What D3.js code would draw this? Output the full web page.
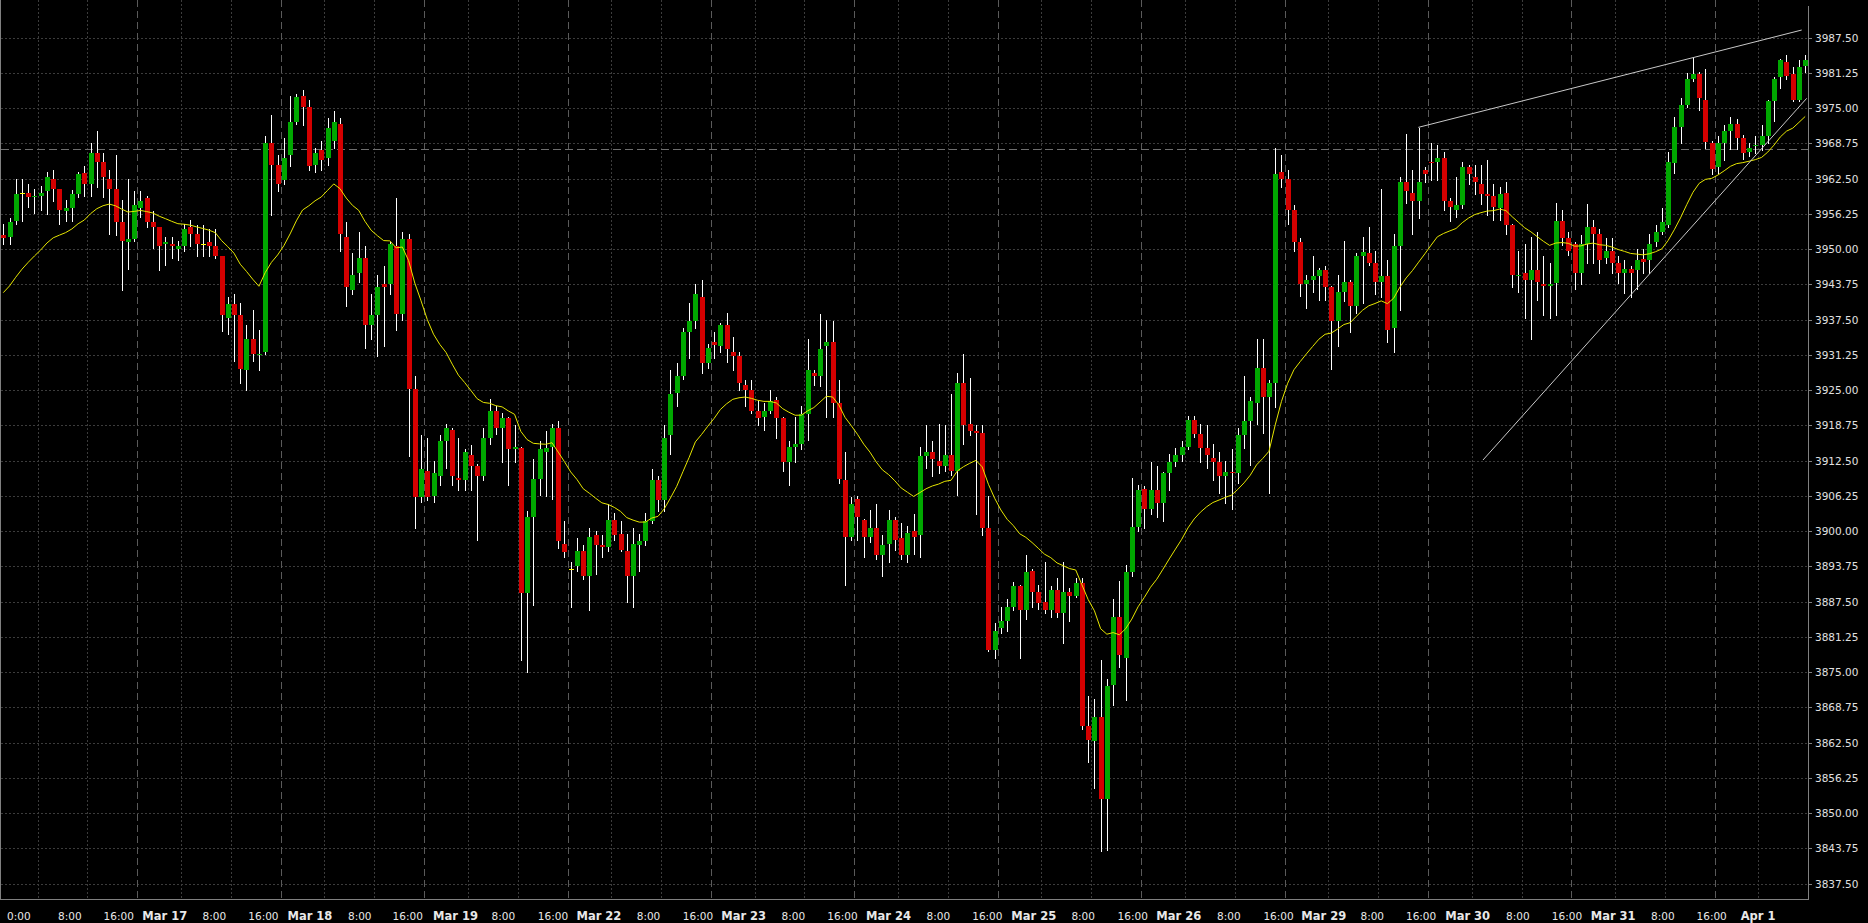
<!DOCTYPE html>
<html><head><meta charset="utf-8">
<script src="https://cdn.jsdelivr.net/npm/d3@7"></script>
<style>html,body{margin:0;padding:0;background:#000;overflow:hidden}</style>
</head><body><svg id="c" width="1868" height="923"></svg>
<script>
// ---------- DATA (H1 candles, ES futures) ----------
const opens = [3952.5,3952.25,3955,3960,3960,3959.25,3959.5,3960.25,3962.5,3960.75,3956.75,3957.25,3959.75,3963.5,3961.5,3967,3965.5,3962.5,3960.75,3954.75,3951.25,3951.75,3957.25,3959,3954.75,3954,3951,3951,3950,3950.5,3954,3952.75,3951,3951.25,3950.5,3948.75,3937.75,3940.25,3938.25,3928.5,3934,3931.25,3931.75,3968.75,3965,3962.25,3966.75,3972.5,3977.25,3975.25,3965,3967.5,3966.25,3969.25,3972.25,3952.25,3942.75,3945.75,3948.5,3936.5,3938.25,3943.75,3943.75,3950.5,3938.5,3951.75,3925.25,3906,3910.75,3906.25,3909.75,3916,3918,3909.5,3909,3913.5,3911.5,3909.75,3916.5,3921.25,3918.25,3920,3914.5,3914.75,3889,3902.5,3909.25,3914,3915,3918.25,3897.75,3893.25,3893.75,3896.5,3892,3899.25,3897.5,3897.25,3902,3899.5,3896.5,3892,3897.5,3898.25,3901.75,3909,3905.5,3917,3924.5,3927.5,3935.25,3937.25,3941.5,3929.75,3933.5,3932.75,3936.5,3931.75,3931,3926,3925,3921.25,3920.25,3921.25,3923.25,3920,3912.25,3915,3915.5,3920.75,3928,3927.5,3932.75,3933.5,3922.75,3909,3899,3905.75,3902,3899,3900.5,3895.75,3897.75,3902,3898.75,3895.75,3900,3899.25,3913.25,3914,3912.5,3911.5,3913.5,3910.75,3926.25,3919,3917.75,3917.5,3900.5,3879,3882.75,3884,3886.5,3890.25,3886,3893,3889.25,3887.5,3886,3889.5,3885.5,3889.25,3888.5,3890.75,3865.5,3862.75,3867,3852.5,3872.75,3884.75,3877.5,3892.75,3900.75,3907.5,3904,3907.25,3905,3910.25,3912.25,3913.5,3915,3919.75,3917.25,3914.75,3913,3912.25,3909.75,3910.5,3910.25,3917,3919.5,3922.75,3929,3923.75,3926.25,3963.75,3962.5,3957,3951.25,3943.75,3944.5,3945.25,3946.25,3943.25,3937.25,3942.5,3944.25,3940,3948.75,3949.25,3947.5,3944.25,3945.25,3936,3950.5,3962,3960,3958.5,3964,3965.5,3965.5,3966.25,3958.5,3957,3957.75,3964.5,3962.75,3961.5,3959.75,3959.5,3957.25,3960,3954.25,3945.25,3945.75,3944.5,3946.25,3943.75,3943.5,3944,3955,3952,3951,3945.75,3951,3954,3952.75,3948.5,3949.75,3947.5,3945.75,3946.5,3946.25,3948.25,3948,3951.25,3953,3954.25,3965.25,3971.75,3975.5,3980.25,3981,3976.5,3968.75,3964.5,3968.75,3971,3972.25,3969.75,3967.25,3968.25,3968.5,3970,3976.25,3980.5,3983.25,3981,3976.5,3982.5];
const highs = [3954.5,3955.5,3962.5,3962.5,3961.5,3960.75,3961.25,3963.75,3964,3960.75,3958.75,3960.5,3963.75,3964.75,3968.75,3971,3967,3964,3966.75,3958.75,3962.5,3960.25,3960.25,3959.5,3956.75,3954,3952.25,3952.25,3951.5,3954.5,3955.25,3954.25,3954.25,3953.5,3953.5,3948.75,3941.5,3942,3940.5,3936.5,3939.25,3935.75,3970,3973.75,3966.75,3969.75,3977.25,3977.5,3978.25,3976.5,3968,3969.25,3973.25,3974.5,3973.25,3954.75,3949.25,3953,3950.5,3942,3945.5,3947,3951.25,3959,3953,3952.75,3927.5,3917,3916.5,3912.5,3917,3919,3918.25,3916.5,3914.5,3915.25,3912,3918.25,3923.5,3922.25,3921,3920.25,3918.75,3915,3903.5,3912.75,3916,3917.75,3919,3919.5,3901.75,3894.5,3898.75,3897.5,3900.5,3900,3899.25,3904.75,3903.25,3901.75,3899.5,3900.5,3899.5,3903.25,3911,3909.75,3918.75,3928.5,3929.75,3936,3940.5,3943.75,3944.5,3933.25,3935.25,3937,3938.75,3934.5,3931.75,3926.75,3926.75,3923.25,3922.75,3925,3923.75,3920.25,3916,3920.25,3922.25,3934,3928.5,3938.5,3937.5,3937.25,3926.75,3914,3906,3906.25,3902.25,3903.75,3904.75,3899.25,3903.75,3902.5,3901.5,3901,3903,3915,3918.75,3916,3919,3918.75,3924.25,3928,3931.5,3927.25,3918.75,3918.75,3906.25,3883.75,3886.5,3888,3891,3890.5,3895.75,3893.25,3890.5,3894.5,3890.25,3891.75,3894.5,3890,3891.75,3891.75,3870.75,3870.25,3877.25,3873.75,3888,3891.25,3894,3909.5,3908.25,3908,3912.25,3911.5,3910.5,3913.75,3914.75,3916,3920.5,3920.5,3919,3918.75,3915.5,3914,3912.5,3914.5,3918.25,3927.5,3923.75,3934,3934,3926.75,3968,3966.75,3964,3957.75,3952,3945.5,3948.75,3946.75,3947,3943.5,3945.5,3951.5,3944.5,3949.25,3952.25,3954,3949.75,3960.75,3948,3952.75,3962.75,3970.5,3964,3971.5,3964.5,3968.75,3968.5,3967.25,3959,3962.75,3965.5,3965,3965,3965,3965.75,3961.5,3961,3962,3954.5,3949.75,3951,3952.25,3953,3948.75,3947.5,3958.25,3957,3953,3951.25,3952.5,3958,3955.25,3953.5,3952,3952,3948.75,3948,3947,3950,3950,3952.75,3954.25,3957.25,3967.25,3973.5,3976.75,3981.25,3984,3981.5,3982,3969.25,3970,3972,3973.5,3973,3970.25,3968.75,3970,3972,3976.5,3980.5,3983.75,3984.5,3982.25,3983.5,3984.5];
const lows = [3951,3951,3954.5,3955,3957.5,3956.5,3957,3956.25,3958.5,3954.5,3955,3955,3959.25,3959.5,3959.5,3961,3959.25,3952.75,3952.5,3942.75,3946.5,3951.5,3955.75,3954,3950.25,3946.25,3947.25,3948.5,3948,3949.75,3950.5,3948.75,3948.75,3948.75,3948.5,3935.5,3935,3930.25,3926.25,3925,3930.25,3928.5,3931.5,3956,3960.25,3961.5,3964.75,3972.25,3972,3964,3963.75,3964,3965,3968,3949.75,3940,3942,3944.25,3932.5,3934,3931,3932.75,3942,3935.75,3937.5,3913.25,3900.5,3905.25,3905.5,3905.25,3908.25,3911.25,3908.25,3907.25,3907.25,3907.25,3898.5,3909,3915.5,3917.25,3912.25,3908.25,3912.25,3877.25,3875,3887,3906.5,3906.25,3905.75,3897,3895.5,3886.5,3893,3891.5,3886,3892.5,3895.5,3896.5,3898.5,3896.5,3887.5,3886.5,3893,3897.5,3901.5,3903.5,3903.5,3913.75,3922.25,3927,3930.75,3936,3928,3929,3930.75,3931.75,3930,3928.5,3925,3922.25,3921,3918.75,3918,3921,3916.5,3910.75,3908.25,3912.25,3914.5,3916.25,3926,3925.75,3920.25,3920.25,3908.5,3890.5,3898.5,3898.5,3895.5,3898,3895,3892,3894.5,3896.75,3895,3894.5,3896,3895.5,3911.25,3909.75,3910.25,3910.75,3910,3906.5,3915.5,3917,3903,3899.25,3878.75,3877.5,3882,3882.25,3886,3877.5,3884.5,3886.5,3886.25,3885.5,3884.75,3884.75,3880.25,3884,3888.25,3865,3859,3854.5,3843.25,3843.5,3869.25,3876,3870,3892,3900,3900.5,3903,3902.5,3901.75,3907.25,3911.5,3912.5,3914.5,3916.75,3912.25,3911.25,3909,3906.75,3905,3904,3908.5,3914.75,3911.75,3919,3917.5,3906.75,3922,3961,3954.5,3949.75,3941.75,3939.5,3942.5,3941,3941,3928.75,3932.75,3940.75,3935.25,3938.75,3940.5,3947.25,3942,3941.5,3933.5,3931.75,3939.25,3958.25,3952.75,3955.5,3962,3962.25,3962.25,3957,3955,3955.75,3957.25,3961.5,3959.75,3958,3956,3955.25,3955.25,3952.75,3943.25,3942.5,3937.75,3934,3941,3938.25,3937.75,3938.25,3950.75,3949,3943,3943.75,3947.5,3947.5,3945.75,3947.5,3945.75,3944,3942.25,3941.5,3943,3945.75,3945.75,3950.5,3952.75,3954,3963.5,3968.75,3975.25,3979.75,3974.75,3968,3963.25,3963.5,3965.75,3967.75,3967.75,3966,3966.5,3967,3967.5,3968.75,3972.75,3978.5,3980.25,3976.25,3976.25,3981.5];
const closes = [3952,3954.75,3959.75,3960,3959.25,3959.5,3960,3962.75,3960.75,3957,3957.25,3959.75,3963.25,3961.5,3967,3965.5,3962.75,3960.75,3954.75,3951.5,3951.75,3957.75,3958.5,3954.75,3954,3950.5,3951.25,3950.5,3950.5,3953.5,3952.75,3951,3951,3950.5,3948.75,3938.25,3940.25,3938.25,3928.75,3934,3931.5,3931.5,3968.75,3965,3961.5,3966.25,3972.5,3977,3975.25,3964.75,3967,3965.75,3971.5,3972.5,3952.75,3943.25,3945.5,3948.5,3936.5,3938.25,3943.25,3943.25,3951,3938.5,3951.75,3925.25,3906,3911,3906,3910.25,3916,3918.25,3909.75,3909,3914,3911.5,3909.75,3916.5,3921.25,3918.25,3920,3914.5,3915,3889,3902.5,3909.25,3914.5,3914.75,3918.25,3898.25,3896.25,3893.25,3896.5,3892,3899,3897.5,3897.25,3902,3899.25,3896.75,3892,3897.75,3898.25,3901.75,3909,3905.5,3916.5,3924.25,3927.5,3935.25,3937.25,3942,3929.75,3932.5,3933,3936.5,3932.25,3931,3926.25,3925,3921.25,3920,3921.25,3923,3920,3912.25,3915,3915.5,3920.75,3928.5,3927.5,3932.25,3933.5,3922.75,3909.25,3899,3904.75,3902.5,3899,3900.5,3895.75,3897.5,3902,3898.5,3895.75,3899.75,3899,3913.25,3914,3912.75,3911.5,3913.5,3910.75,3926.25,3918.75,3917.75,3917.5,3900.5,3879,3882.25,3884,3886.5,3890.25,3886,3892.75,3889.25,3887.25,3886,3889.5,3885.5,3889.25,3888.5,3890.75,3865.5,3863,3867,3852.5,3872.5,3884.75,3878,3892.75,3900.75,3907.25,3904,3907.25,3905,3910.25,3912.25,3913.5,3915,3919.75,3917.25,3914.75,3913.5,3912.25,3909.75,3910.5,3910.25,3917,3919.5,3923,3929,3923.75,3926.25,3963.25,3962.5,3957,3951.25,3943.75,3944.5,3945.25,3946.25,3943.25,3937.25,3942.5,3944.25,3940,3948.75,3949.5,3947.5,3944.25,3945.25,3935.75,3950.5,3962,3960.25,3958.5,3962,3963.25,3965.25,3966.25,3958.5,3957.5,3957.75,3964.5,3963.25,3962,3959.75,3959.5,3957.5,3959.75,3954.25,3945.5,3945.5,3944.5,3946.25,3944.25,3943.5,3943.75,3955,3952,3949.75,3945.75,3951,3954,3952.75,3948,3949.75,3947.5,3945.75,3946.5,3945.75,3948,3947.75,3951,3953,3954.75,3965.5,3971.75,3975.5,3980.25,3981,3976.75,3969,3964.25,3968.75,3971,3972.25,3969.75,3967,3968,3968.5,3970,3976.25,3980.25,3983.5,3980.75,3976.5,3982.25,3983.5];

// moving average (EMA 20 of close) – value at first visible bar
const maPeriod = 20;
const maStart = 3942.3;

// price axis ticks
const priceTicks = d3.range(0, 25).map(i => 3837.5 + i * 6.25);

// time axis: label text, bar position of label
const timeLabels = ["0:00","8:00","16:00","Mar 17","8:00","16:00","Mar 18","8:00","16:00","Mar 19","8:00","16:00","Mar 22","8:00","16:00","Mar 23","8:00","16:00","Mar 24","8:00","16:00","Mar 25","8:00","16:00","Mar 26","8:00","16:00","Mar 29","8:00","16:00","Mar 30","8:00","16:00","Mar 31","8:00","16:00","Apr 1"];
const timeLabelBars = [1.61,9.79,17.09,23.29,32.95,40.29,46.58,56.28,63.44,69.92,79.3,86.73,92.93,102.59,109.99,116.14,125.82,133.16,139.38,149.07,156.4,162.68,172.31,179.72,185.92,195.67,203.1,209.19,218.67,225.97,232.26,242.01,249.36,255.6,265.27,272.57,279.66];
// vertical grid: first bar of each 8-hour block; day separators
const gridBars = [7,15,30,38,53,61,76,84,99,107,122,130,145,153,168,176,191,199,214,222,237,245,260,268,283];
const dayBars = [23,46,69,92,115,138,161,184,207,230,253,276];

// drawn objects: trend lines [bar, price] pairs and a horizontal level
const trendLines = [
  [[227.94, 3971.6], [289.44, 3988.86]],
  [[238.32, 3912.62], [290.24, 3976.75]]
];
const levelLine = 3967.75;

// ---------- DRAW ----------
const W = 1868, H = 923;
const plotR = 1808, plotB = 899;
const svg = d3.select("#c");
svg.append("rect").attr("width", W).attr("height", H).attr("fill", "#000");

const N = closes.length;
const x = d3.scaleLinear().domain([1, N]).range([3.3, 1805.2]);
const y = d3.scaleLinear().domain([3837.5, 3987.5]).range([883.7, 37.7]);

const g = svg.append("g");
const defs = svg.append("defs");
defs.append("clipPath").attr("id", "clip").append("rect").attr("x", 0).attr("y", 0).attr("width", plotR).attr("height", plotB);

// horizontal grid
g.append("g").selectAll("line").data(priceTicks).join("line")
  .attr("x1", 1).attr("x2", plotR)
  .attr("y1", d => Math.round(y(d)) + 0.5).attr("y2", d => Math.round(y(d)) + 0.5)
  .attr("stroke", "#3c3c3c").attr("stroke-width", 1).attr("stroke-dasharray", "2,2");

// vertical grid
g.append("g").selectAll("line").data(gridBars).join("line")
  .attr("x1", d => Math.round(x(d - 0.5)) + 0.5).attr("x2", d => Math.round(x(d - 0.5)) + 0.5)
  .attr("y1", 0).attr("y2", plotB)
  .attr("stroke", "#3c3c3c").attr("stroke-width", 1).attr("stroke-dasharray", "2,2");
g.append("g").selectAll("line").data(dayBars).join("line")
  .attr("x1", d => Math.round(x(d - 0.5)) + 0.5).attr("x2", d => Math.round(x(d - 0.5)) + 0.5)
  .attr("y1", 0).attr("y2", plotB)
  .attr("stroke", "#5a5a5a").attr("stroke-width", 1).attr("stroke-dasharray", "7,4");

// horizontal level line
g.append("line").attr("x1", 1).attr("x2", plotR)
  .attr("y1", Math.round(y(levelLine)) + 0.5).attr("y2", Math.round(y(levelLine)) + 0.5)
  .attr("stroke", "#6e6e6e").attr("stroke-width", 1).attr("stroke-dasharray", "8,4");

// candles
const cg = g.append("g").attr("clip-path", "url(#clip)");
const idx = d3.range(N);
const cx = i => Math.round(x(i + 1));
cg.append("g").selectAll("line").data(idx).join("line")
  .attr("x1", i => cx(i) + 0.5).attr("x2", i => cx(i) + 0.5)
  .attr("y1", i => Math.round(y(highs[i]))).attr("y2", i => Math.round(y(lows[i])) + 1)
  .attr("stroke", "#ffffff").attr("stroke-width", 1);
cg.append("g").selectAll("rect").data(idx.filter(i => opens[i] !== closes[i])).join("rect")
  .attr("x", i => cx(i) - 2).attr("width", 5)
  .attr("y", i => Math.round(y(Math.max(opens[i], closes[i]))))
  .attr("height", i => Math.max(1, Math.round(y(Math.min(opens[i], closes[i]))) - Math.round(y(Math.max(opens[i], closes[i])))))
  .attr("fill", i => closes[i] > opens[i] ? "#00a800" : "#d40000");
cg.append("g").selectAll("rect").data(idx.filter(i => opens[i] === closes[i])).join("rect")
  .attr("x", i => cx(i) - 2).attr("width", 5)
  .attr("y", i => Math.round(y(closes[i]))).attr("height", 1)
  .attr("fill", "#ffff00");

// EMA line
const alpha = 2 / (maPeriod + 1);
const ma = [];
closes.forEach((c, i) => { ma.push(i === 0 ? maStart : ma[i - 1] + alpha * (c - ma[i - 1])); });
cg.append("path").datum(ma)
  .attr("d", d3.line().x((d, i) => x(i + 1)).y(d => y(d)))
  .attr("fill", "none").attr("stroke", "#e6e600").attr("stroke-width", 1);

// trend lines
cg.append("g").selectAll("line").data(trendLines).join("line")
  .attr("x1", d => x(d[0][0])).attr("y1", d => y(d[0][1]))
  .attr("x2", d => x(d[1][0])).attr("y2", d => y(d[1][1]))
  .attr("stroke", "#c8c8c8").attr("stroke-width", 1);

// frame
svg.append("line").attr("x1", 0.5).attr("x2", 0.5).attr("y1", 0).attr("y2", plotB + 0.5).attr("stroke", "#808080");
svg.append("line").attr("x1", plotR + 0.5).attr("x2", plotR + 0.5).attr("y1", 6).attr("y2", plotB + 0.5).attr("stroke", "#808080");
svg.append("line").attr("x1", 0).attr("x2", plotR + 1).attr("y1", plotB + 0.5).attr("y2", plotB + 0.5).attr("stroke", "#808080");

// price axis
const ay = svg.append("g");
ay.selectAll("line").data(priceTicks).join("line")
  .attr("x1", plotR + 1).attr("x2", plotR + 4)
  .attr("y1", d => Math.round(y(d)) + 0.5).attr("y2", d => Math.round(y(d)) + 0.5)
  .attr("stroke", "#808080");
ay.selectAll("text").data(priceTicks).join("text")
  .attr("x", 1815).attr("y", d => y(d) + 3.8)
  .attr("fill", "#e0e0e0").attr("font-family", "DejaVu Sans, sans-serif").attr("font-size", "10.5px")
  .text(d => d3.format(".2f")(d));

// time axis
const ax = svg.append("g");
ax.selectAll("text").data(timeLabels).join("text")
  .attr("x", (d, i) => x(timeLabelBars[i]))
  .attr("y", 920)
  .attr("fill", "#e8e8e8")
  .attr("font-family", "DejaVu Sans, sans-serif")
  .attr("font-weight", d => d.includes(":") ? "normal" : "bold")
  .attr("font-size", d => d.includes(":") ? "10.5px" : "11.5px")
  .text(d => d);
</script>
</body></html>
